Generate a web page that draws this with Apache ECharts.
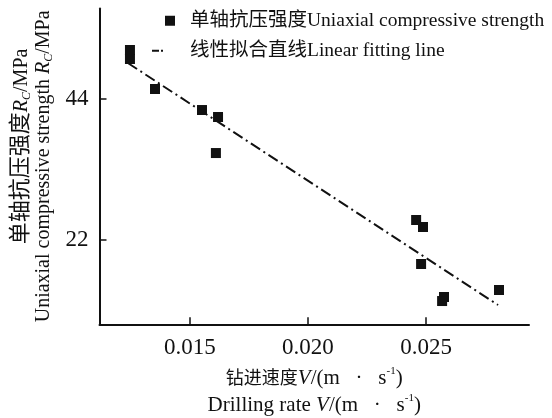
<!DOCTYPE html>
<html>
<head>
<meta charset="utf-8">
<script src="https://cdn.jsdelivr.net/npm/echarts@6/dist/echarts.min.js"></script>
<style>
  html, body { margin: 0; padding: 0; background: #fff; }
  #chart { width: 552px; height: 418px; }
</style>
</head>
<body>
<div id="chart"></div>
<script>
// 钻进速度 vs 单轴抗压强度
const drillRate = [0.01246, 0.01246, 0.01352, 0.01551, 0.01619, 0.01610, 0.02458, 0.02487, 0.02479, 0.02576, 0.02568, 0.02809]
const strength = [51.65, 50.24, 45.56, 42.28, 41.19, 35.57, 25.12, 24.03, 18.26, 13.11, 12.48, 14.2]
// 拟合直线两端
const fitRate = [0.01237, 0.02805]
const fitStrength = [49.62, 11.86]
const xTicks = [0.015, 0.020, 0.025]
const yTicks = [22, 44]

const FONT = "'Liberation Serif', 'Noto Sans CJK SC', serif"
const INK = '#111'

const chartInstance = echarts.init(document.getElementById('chart'))

const scatterData = drillRate.map((v, i) => [v, strength[i]])
const fitData = fitRate.map((v, i) => [v, fitStrength[i]])

const nameRich = {
  t: { fontFamily: FONT, fontSize: 20, color: INK },
  tx: { fontFamily: FONT, fontSize: 21, color: INK },
  c: { fontFamily: FONT, fontSize: 18, color: INK },
  cy: { fontFamily: FONT, fontSize: 22, color: INK },
  i: { fontFamily: FONT, fontSize: 20, color: INK, fontStyle: 'italic' },
  ix: { fontFamily: FONT, fontSize: 21, color: INK, fontStyle: 'italic' },
  sub: { fontFamily: FONT, fontSize: 12, color: INK, fontStyle: 'italic', verticalAlign: 'bottom' },
  sup: { fontFamily: FONT, fontSize: 11, color: INK, verticalAlign: 'top' },
  sp: { width: 40 }
}

const option = {
  backgroundColor: '#fff',
  animation: false,
  grid: {
    left: 99.5,
    right: 23,
    top: 8.5,
    bottom: 93.7,
    outerBoundsMode: 'none'
  },
  legend: [
    {
      data: ['单轴抗压强度Uniaxial compressive strength'],
      left: 165,
      top: 11,
      padding: 0,
      itemWidth: 10,
      itemHeight: 10,
      icon: 'rect',
      itemStyle: { opacity: 1 },
      textStyle: { fontFamily: FONT, fontSize: 19.5, color: INK, padding: [0, 0, 0, 10] }
    },
    {
      data: [{
        name: '线性拟合直线Linear fitting line',
        icon: 'path://M0,0h7v2h-7z M9,0h2v2h-2z'
      }],
      left: 152,
      top: 41,
      padding: 0,
      itemWidth: 11,
      itemHeight: 2,
      itemStyle: { color: INK },
      textStyle: { fontFamily: FONT, fontSize: 19.5, color: INK, padding: [0, 0, 0, 22] }
    }
  ],
  xAxis: {
    type: 'value',
    min: 0.01117,
    max: 0.02936,
    name: '{c|钻进速度}{ix|V}{tx|/(m   ·   s}{sup|-1}{tx|)}\n{tx|Drilling rate }{ix|V}{tx|/(m   ·   s}{sup|-1}{tx|)}',
    nameLocation: 'middle',
    nameGap: 41,
    nameTextStyle: { lineHeight: 27, rich: nameRich },
    axisLine: { lineStyle: { color: INK, width: 2 } },
    axisTick: { inside: true, length: 7, customValues: xTicks, lineStyle: { color: INK, width: 1.5 } },
    axisLabel: {
      customValues: xTicks,
      margin: 12,
      fontFamily: FONT,
      fontSize: 23,
      color: INK,
      formatter: v => v.toFixed(3)
    },
    splitLine: { show: false }
  },
  yAxis: {
    type: 'value',
    min: 8.85,
    max: 58.12,
    name: '{sp|}{cy|单轴抗压强度}{i|R}{sub|C}{t|/MPa}\n{t|Uniaxial compressive strength }{i|R}{sub|C}{t|/MPa}',
    nameLocation: 'middle',
    nameRotate: 90,
    nameGap: 43,
    nameTextStyle: { lineHeight: 22, rich: nameRich },
    axisLine: { lineStyle: { color: INK, width: 2 } },
    axisTick: { inside: true, length: 7, customValues: yTicks, lineStyle: { color: INK, width: 1.5 } },
    axisLabel: {
      customValues: yTicks,
      margin: 11,
      fontFamily: FONT,
      fontSize: 23,
      color: INK
    },
    splitLine: { show: false }
  },
  series: [
    {
      name: '单轴抗压强度Uniaxial compressive strength',
      type: 'scatter',
      symbol: 'rect',
      symbolSize: 10,
      itemStyle: { color: INK, opacity: 1 },
      data: scatterData
    },
    {
      name: '线性拟合直线Linear fitting line',
      type: 'line',
      symbol: 'none',
      lineStyle: { color: INK, width: 2, type: [11, 4, 2, 4] },
      itemStyle: { color: INK },
      data: fitData
    }
  ]
}

chartInstance.setOption(option)
</script>
</body>
</html>
